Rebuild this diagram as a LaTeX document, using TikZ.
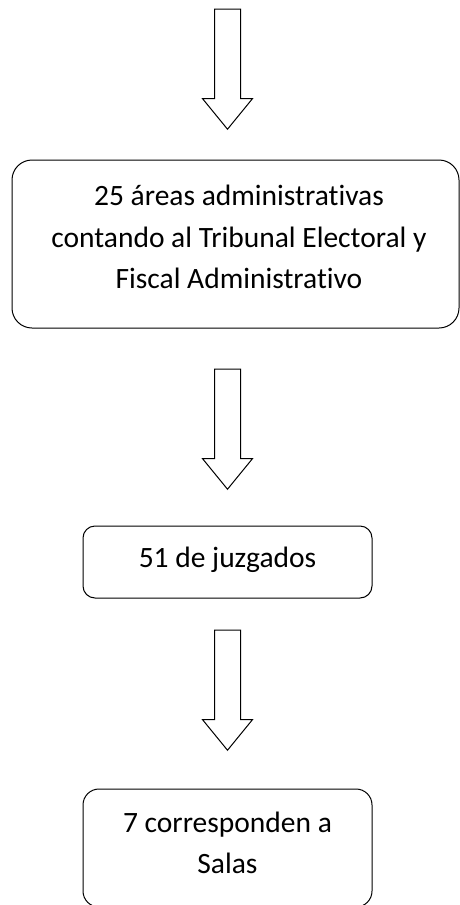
\documentclass[tikz,border=0pt]{standalone}
\usepackage{fontspec}
\setmainfont[Ligatures=NoCommon]{Carlito}
\usetikzlibrary{shapes.arrows}
\tikzset{
  blockarrow/.style={draw=black, line width=1pt, fill=white, single arrow,
    shape border rotate=270, minimum height=120pt, inner sep=12.5pt,
    single arrow head extend=12pt, single arrow tip angle=78.5,
    single arrow head indent=0pt},
  roundbox/.style={draw=black, line width=1pt, inner sep=0pt},
  boxtext/.style={align=center, inner sep=0pt,
    font=\fontsize{29.5}{41.5}\selectfont},
}
\begin{document}
\begin{tikzpicture}[x=1pt,y=-1pt]
\useasboundingbox (0,0) rectangle (460,905);
\clip (0,0) rectangle (460,905);
\node[blockarrow, anchor=tip] (a1) at (227.5,130) {};
\node[roundbox, rounded corners=20pt, minimum width=447pt, minimum height=168pt] (b1) at (235.5,244) {};
\node[boxtext] (t1) at ([xshift=3.5pt,yshift=7pt]b1.center)
  {25 áreas administrativas\\contando al Tribunal Electoral y\\Fiscal Administrativo};
\node[blockarrow, anchor=tip] (a2) at (227.5,490) {};
\node[roundbox, rounded corners=12pt, minimum width=289pt, minimum height=72pt] (b2) at (227.5,562) {};
\node[boxtext] (t2) at ([yshift=2pt]b2.center) {51 de juzgados};
\node[blockarrow, anchor=tip] (a3) at (227.5,751) {};
\node[roundbox, rounded corners=16pt, minimum width=289pt, minimum height=118pt] (b3) at (227.5,848) {};
\node[boxtext] (t3) at ([yshift=5pt]b3.center) {7 corresponden a\\Salas};
\end{tikzpicture}
\end{document}
